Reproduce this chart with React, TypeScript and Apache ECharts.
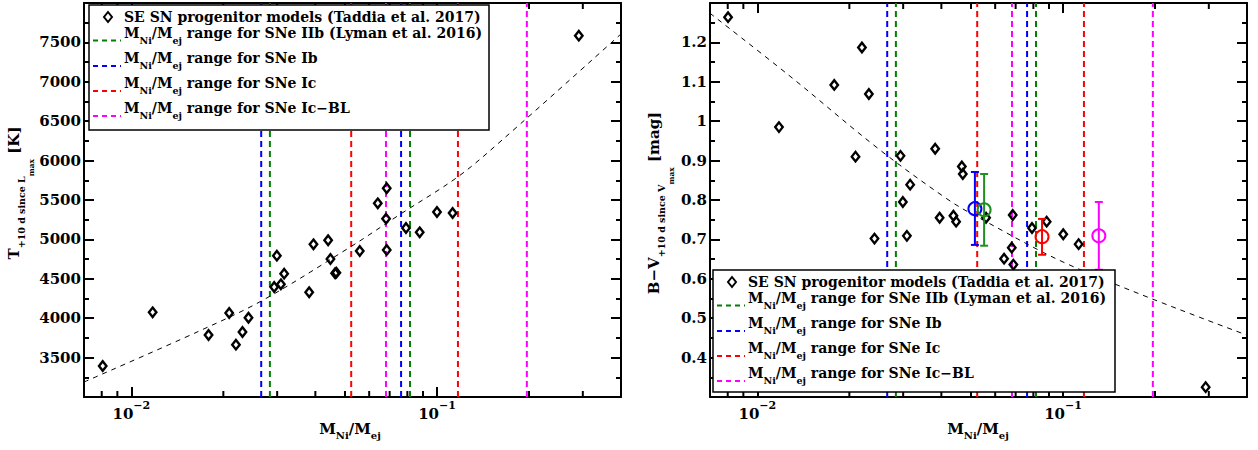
import { useEffect, useRef } from 'react';
import * as echarts from 'echarts';

const FONT = "'DejaVu Serif', 'Liberation Serif', serif";

// ---------- axes ----------
const X_MIN = 0.007;
const X_MAX = 0.4;
const T_MIN = 3000;
const T_MAX = 8000;
const T_STEP = 500;
const C_MIN = 0.3;
const C_MAX = 1.3;
const C_STEP = 0.1;
const minorTicksX = [0.008, 0.009, 0.02, 0.03, 0.04, 0.05, 0.06, 0.07, 0.08, 0.09, 0.2, 0.3];

// ---------- left panel: temperature ----------
const tempRatio = [0.00806, 0.01174, 0.01789, 0.0209, 0.02199, 0.0231, 0.02417, 0.02933, 0.02993, 0.03085, 0.03162, 0.03818, 0.03943, 0.04404, 0.04481, 0.04642, 0.04687, 0.05589, 0.06401, 0.06848, 0.06813, 0.06848, 0.07918, 0.08778, 0.1, 0.1125, 0.2911];
const tempValues = [3393, 4075, 3787, 4066, 3664, 3825, 4006, 4396, 4793, 4430, 4565, 4329, 4938, 4989, 4751, 4570, 4578, 4853, 5458, 5649, 5263, 4866, 5145, 5090, 5348, 5335, 7585];
const tempFitRatio = [0.007, 0.0167, 0.027, 0.0522, 0.076, 0.1172, 0.1633, 0.4];
const tempFitValues = [3190, 3838, 4231, 4907, 5322, 5796, 6261, 7607];

// ---------- right panel: B-V colour ----------
const colorRatio = [0.00802, 0.01177, 0.01785, 0.02095, 0.02199, 0.02317, 0.02417, 0.0294, 0.02993, 0.03162, 0.03085, 0.03818, 0.03948, 0.04381, 0.0447, 0.04667, 0.04701, 0.05602, 0.06848, 0.06798, 0.06416, 0.0688, 0.07918, 0.08843, 0.1002, 0.1125, 0.293];
const colorValues = [1.264, 0.985, 1.092, 0.91, 1.187, 1.069, 0.702, 0.912, 0.795, 0.839, 0.709, 0.93, 0.755, 0.76, 0.745, 0.885, 0.866, 0.755, 0.762, 0.679, 0.651, 0.636, 0.729, 0.745, 0.713, 0.688, 0.325];
const colorFitRatio = [0.007, 0.0128, 0.0249, 0.0417, 0.0516, 0.108, 0.4];
const colorFitValues = [1.274, 1.114, 0.93, 0.803, 0.76, 0.631, 0.457];

// observed SN classes (right panel)
const obsRatio = [0.0515, 0.0552, 0.0854, 0.131];
const obsColor = [0.778, 0.775, 0.707, 0.709];
const obsLow = [0.686, 0.684, 0.661, 0.623];
const obsHigh = [0.871, 0.866, 0.752, 0.795];
const obsColors = ['#0000ff', '#1f8f1f', '#ff0000', '#ff00ff'];

// ---------- M_Ni/M_ej ranges (Lyman et al. 2016) ----------
const modelLabel = 'SE SN progenitor models (Taddia et al. 2017)';
const rangeLabels = ['range for SNe IIb (Lyman et al. 2016)', 'range for SNe Ib', 'range for SNe Ic', 'range for SNe Ic\u2212BL'];
const rangeColors = ['#008000', '#0000ff', '#ff0000', '#ff00ff'];
const rangeLow = [0.0284, 0.0266, 0.0524, 0.0681];
const rangeHigh = [0.0816, 0.0763, 0.1171, 0.1968];

const zip = (a: number[], b: number[]) => a.map((v, i) => [v, b[i]]);

const boldRich = (size: number, lh: number, padTop: number) => ({
  fontSize: size,
  fontWeight: 'bold',
  fontFamily: FONT,
  color: '#000',
  fill: '#000',
  lineHeight: lh,
  verticalAlign: 'top',
  padding: [padTop, 0, 0, 0],
});

const mRich = {
  m: boldRich(14, 16, 0),
  s: boldRich(9.5, 11, 9.5),
};

function buildGrid(gridIndex: number, yMin: number, yMax: number, yStep: number) {
  const xBottom = {
    type: 'log',
    gridIndex,
    position: 'bottom',
    min: X_MIN,
    max: X_MAX,
    logBase: 10,
    axisLine: { onZero: false, lineStyle: { color: '#000', width: 2 } },
    axisTick: { inside: true, length: 10, lineStyle: { color: '#000', width: 2 } },
    splitLine: { show: false },
    axisLabel: {
      margin: 3,
      showMinLabel: false,
      showMaxLabel: false,
      formatter: (v: number) => {
        const e = Math.log10(v);
        const r = Math.round(e);
        return Math.abs(e - r) < 1e-6 ? `{b|10}{sup|\u2212${-r}}` : '';
      },
      rich: {
        b: boldRich(15, 16, 6),
        sup: boldRich(11, 12, 0),
      },
    },
  };
  const xTop = {
    type: 'log',
    gridIndex,
    position: 'top',
    min: X_MIN,
    max: X_MAX,
    logBase: 10,
    axisLine: { onZero: false, lineStyle: { color: '#000', width: 2 } },
    axisTick: { inside: true, length: 10, lineStyle: { color: '#000', width: 2 } },
    splitLine: { show: false },
    axisLabel: { show: false },
  };
  const yCommon = {
    type: 'value',
    gridIndex,
    min: yMin,
    max: yMax,
    interval: yStep,
    axisLine: { onZero: false, lineStyle: { color: '#000', width: 2 } },
    axisTick: { inside: true, length: 10, lineStyle: { color: '#000', width: 2 } },
    minorTick: { show: true, splitNumber: 2, length: 5, lineStyle: { color: '#000', width: 2 } },
    splitLine: { show: false },
  };
  const yLeft = {
    ...yCommon,
    position: 'left',
    axisLabel: {
      margin: 3,
      showMinLabel: false,
      showMaxLabel: false,
      fontSize: 15,
      fontWeight: 'bold',
      fontFamily: FONT,
      color: '#000',
      formatter: (v: number) => String(Math.round(v * 1000) / 1000),
    },
  };
  const yRight = { ...yCommon, position: 'right', axisLabel: { show: false } };
  return { xAxes: [xBottom, xTop], yAxes: [yLeft, yRight] };
}

function minorTickSeries(axisIdx: number, yMin: number, yMax: number) {
  return {
    type: 'custom',
    xAxisIndex: axisIdx,
    yAxisIndex: axisIdx,
    silent: true,
    clip: false,
    z: 5,
    data: minorTicksX.map((v) => [v, yMin]),
    encode: { x: 0, y: 1 },
    renderItem: (_p: any, api: any) => {
      const v = api.value(0);
      const b = api.coord([v, yMin]);
      const t = api.coord([v, yMax]);
      const st = { stroke: '#000', lineWidth: 2 };
      return {
        type: 'group',
        children: [
          { type: 'line', shape: { x1: b[0], y1: b[1], x2: b[0], y2: b[1] - 6 }, style: st },
          { type: 'line', shape: { x1: t[0], y1: t[1], x2: t[0], y2: t[1] + 6 }, style: st },
        ],
      };
    },
  };
}

function rangeLineSeries(axisIdx: number, yMin: number, yMax: number) {
  const data: number[][] = [];
  rangeLabels.forEach((_, i) => {
    data.push([rangeLow[i], yMin, i]);
    data.push([rangeHigh[i], yMin, i]);
  });
  return {
    type: 'custom',
    xAxisIndex: axisIdx,
    yAxisIndex: axisIdx,
    silent: true,
    clip: false,
    z: 2,
    data,
    encode: { x: 0, y: 1 },
    renderItem: (_p: any, api: any) => {
      const v = api.value(0);
      const b = api.coord([v, yMin]);
      const t = api.coord([v, yMax]);
      return {
        type: 'line',
        shape: { x1: b[0], y1: b[1], x2: t[0], y2: t[1] },
        style: { stroke: rangeColors[api.value(2)], lineWidth: 2, lineDash: [6, 4] },
      };
    },
  };
}

function legendGraphics(bx: number, by: number, bw: number, bh: number) {
  const offs = [12, 28.5, 54, 79, 104];
  const els: any[] = [];
  els.push({
    type: 'rect',
    z: 50,
    shape: { x: bx, y: by, width: bw, height: bh },
    style: { fill: '#fff', stroke: '#000', lineWidth: 1.5 },
  });
  const y0 = by + offs[0];
  els.push({
    type: 'polygon',
    z: 51,
    shape: { points: [[bx + 19, y0 - 5], [bx + 23, y0], [bx + 19, y0 + 5], [bx + 15, y0]] },
    style: { fill: 'none', stroke: '#000', lineWidth: 2 },
  });
  els.push({
    type: 'text',
    z: 51,
    x: bx + 35,
    y: y0,
    style: {
      text: modelLabel,
      fontSize: 14,
      fontWeight: 'bold',
      fontFamily: FONT,
      fill: '#000',
      align: 'left',
      textAlign: 'left',
      verticalAlign: 'middle',
      textVerticalAlign: 'middle',
    },
  });
  rangeLabels.forEach((name, i) => {
    const yc = by + offs[i + 1];
    els.push({
      type: 'line',
      z: 51,
      shape: { x1: bx + 4, y1: yc + 7, x2: bx + 32, y2: yc + 7 },
      style: { stroke: rangeColors[i], lineWidth: 2, lineDash: [5, 4] },
    });
    els.push({
      type: 'text',
      z: 51,
      x: bx + 35,
      y: yc - 8,
      style: {
        text: `{m|M}{s|Ni}{m|/M}{s|ej}{m| ${name}}`,
        rich: mRich,
        fontSize: 14,
        fontWeight: 'bold',
        fontFamily: FONT,
        fill: '#000',
        align: 'left',
        textAlign: 'left',
        verticalAlign: 'top',
        textVerticalAlign: 'top',
      },
    });
  });
  return els;
}

function axisTitles() {
  const titleRich = {
    m: boldRich(15, 16, 0),
    s: boldRich(9.5, 11, 10.5),
    ss: boldRich(7.5, 8, 21),
  };
  const xRich = {
    m: boldRich(15, 16, 0),
    s: boldRich(10, 11, 9.5),
  };
  const common = { fontFamily: FONT, fontWeight: 'bold', fill: '#000' };
  const xTitle = (cx: number) => ({
    type: 'text',
    z: 60,
    x: cx,
    y: 421,
    style: {
      ...common,
      text: '{m|M}{s|Ni}{m|/M}{s|ej}',
      rich: xRich,
      align: 'center',
      textAlign: 'center',
      verticalAlign: 'top',
      textVerticalAlign: 'top',
    },
  });
  const yTitle = (x: number, y: number, text: string) => ({
    type: 'text',
    z: 60,
    x,
    y,
    rotation: Math.PI / 2,
    style: {
      ...common,
      text,
      rich: titleRich,
      align: 'center',
      textAlign: 'center',
      verticalAlign: 'top',
      textVerticalAlign: 'top',
    },
  });
  return [
    xTitle(350),
    xTitle(978),
    yTitle(6, 193, '{m|T}{s|+10 d since L}{ss|max}{m| [K]}'),
    yTitle(646, 203, '{m|B\u2212V}{s|+10 d since V}{ss|max}{m| [mag]}'),
  ];
}

function buildOption() {
  const g0 = buildGrid(0, T_MIN, T_MAX, T_STEP);
  const g1 = buildGrid(1, C_MIN, C_MAX, C_STEP);
  // axis order: x0 bottom-left, x1 top-left, x2 bottom-right, x3 top-right
  const xAxis = [g0.xAxes[0], g0.xAxes[1], g1.xAxes[0], g1.xAxes[1]];
  const yAxis = [g0.yAxes[0], g0.yAxes[1], g1.yAxes[0], g1.yAxes[1]];

  const scatterStyle = {
    symbol: 'diamond',
    symbolSize: [7.5, 9.5],
    itemStyle: { color: 'rgba(0,0,0,0)', borderColor: '#000', borderWidth: 2.4, opacity: 1 },
    silent: true,
    z: 4,
  };
  const fitStyle = {
    type: 'line',
    showSymbol: false,
    smooth: 0.35,
    silent: true,
    z: 3,
    lineStyle: { color: '#000', width: 1, type: [5, 5] },
  };

  const series: any[] = [
    rangeLineSeries(0, T_MIN, T_MAX),
    {
      ...fitStyle,
      name: 'fitT',
      xAxisIndex: 0,
      yAxisIndex: 0,
      data: zip(tempFitRatio, tempFitValues),
    },
    {
      type: 'scatter',
      name: 'tempModels',
      xAxisIndex: 0,
      yAxisIndex: 0,
      data: zip(tempRatio, tempValues),
      ...scatterStyle,
    },
    minorTickSeries(0, T_MIN, T_MAX),
    rangeLineSeries(2, C_MIN, C_MAX),
    {
      ...fitStyle,
      name: 'fitC',
      xAxisIndex: 2,
      yAxisIndex: 2,
      data: zip(colorFitRatio, colorFitValues),
    },
    {
      type: 'scatter',
      name: 'colorModels',
      xAxisIndex: 2,
      yAxisIndex: 2,
      data: zip(colorRatio, colorValues),
      ...scatterStyle,
    },
    {
      type: 'custom',
      name: 'observed',
      xAxisIndex: 2,
      yAxisIndex: 2,
      silent: true,
      z: 6,
      clip: false,
      data: obsRatio.map((x, i) => [x, obsColor[i], obsLow[i], obsHigh[i]]),
      encode: { x: 0, y: 1 },
      renderItem: (p: any, api: any) => {
        const x = api.value(0);
        const c = api.coord([x, api.value(1)]);
        const lo = api.coord([x, api.value(2)]);
        const hi = api.coord([x, api.value(3)]);
        const col = obsColors[p.dataIndex];
        const st = { stroke: col, lineWidth: 2, fill: 'none' };
        return {
          type: 'group',
          children: [
            { type: 'line', shape: { x1: c[0], y1: lo[1], x2: c[0], y2: hi[1] }, style: st },
            { type: 'line', shape: { x1: c[0] - 4, y1: lo[1], x2: c[0] + 4, y2: lo[1] }, style: st },
            { type: 'line', shape: { x1: c[0] - 4, y1: hi[1], x2: c[0] + 4, y2: hi[1] }, style: st },
            { type: 'circle', shape: { cx: c[0], cy: c[1], r: 6.5 }, style: st },
          ],
        };
      },
    },
    minorTickSeries(2, C_MIN, C_MAX),
  ];

  return {
    animation: false,
    backgroundColor: '#fff',
    grid: [
      { left: 84, top: 3, width: 537, height: 394 },
      { left: 710, top: 3, width: 537, height: 394 },
    ],
    xAxis,
    yAxis,
    series,
    graphic: [
      ...legendGraphics(89, 5, 400, 125),
      ...legendGraphics(713, 270, 402, 122),
      ...axisTitles(),
    ],
  };
}

export default function App() {
  const ref = useRef<HTMLDivElement>(null);
  useEffect(() => {
    if (!ref.current) return;
    const chart = echarts.init(ref.current, null, { renderer: 'svg', width: 1258, height: 450 });
    chart.setOption(buildOption() as any);
    return () => chart.dispose();
  }, []);
  return (
    <div
      ref={ref}
      style={{ position: 'fixed', left: 0, top: 0, width: 1258, height: 450, background: '#fff' }}
    />
  );
}
